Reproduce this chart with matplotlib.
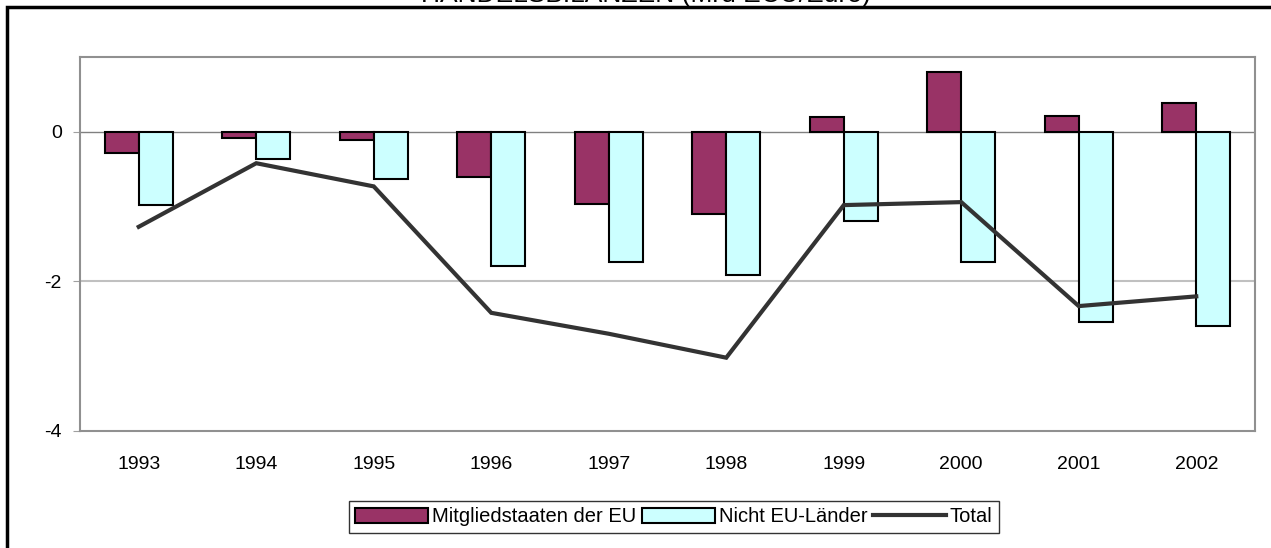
import matplotlib.pyplot as plt
from matplotlib.patches import Rectangle

plt.rcParams["font.family"] = ["Liberation Sans", "DejaVu Sans"]

years = ["1993", "1994", "1995", "1996", "1997", "1998", "1999", "2000", "2001", "2002"]
eu_members = [-0.29, -0.08, -0.11, -0.61, -0.97, -1.10, 0.20, 0.80, 0.21, 0.39]
non_eu = [-0.98, -0.36, -0.63, -1.80, -1.74, -1.92, -1.19, -1.74, -2.54, -2.60]
total = [-1.27, -0.42, -0.73, -2.42, -2.70, -3.02, -0.98, -0.94, -2.33, -2.20]

title = "HANDELSBILANZEN (Mrd ECU/Euro)"
labels = ["Mitgliedstaaten der EU", "Nicht EU-Länder", "Total"]

fig = plt.figure(figsize=(12.71, 5.48), dpi=100)
ax = fig.add_axes([80 / 1271, 1 - 431 / 548, (1255 - 80) / 1271, (431 - 57) / 548])

x = list(range(len(years)))
w = 0.29
b1 = ax.bar([i - w / 2 for i in x], eu_members, width=w, color="#993366",
            edgecolor="black", linewidth=1.5, label=labels[0], zorder=3)
b2 = ax.bar([i + w / 2 for i in x], non_eu, width=w, color="#CCFFFF",
            edgecolor="black", linewidth=1.5, label=labels[1], zorder=3)
ln, = ax.plot(x, total, color="#333333", linewidth=3, label=labels[2], zorder=4,
              solid_joinstyle="miter")

ax.set_xlim(-0.5, len(years) - 0.5)
ax.set_ylim(-4, 1)
ax.set_yticks([-4, -2, 0])
ax.set_yticklabels(["-4", "-2", "0"])
ax.set_xticks(x)
ax.set_xticklabels(years)
ax.tick_params(axis="x", length=0, pad=18, labelsize=14)
ax.tick_params(axis="y", length=5, color="#a0a0a0", pad=8, labelsize=14)

ax.axhline(-2, color="#c0c0c0", linewidth=1.5, zorder=1)
ax.axhline(0, color="#808080", linewidth=1, zorder=2)
for s in ax.spines.values():
    s.set_color("#909090")
    s.set_linewidth(1.5)

leg = ax.legend(handles=[b1, b2, ln], loc="center", ncol=3,
                bbox_to_anchor=(674 / 1271, 1 - 517 / 548),
                bbox_transform=fig.transFigure, fontsize=14.5, frameon=True,
                fancybox=False, edgecolor="black", handlelength=3.6,
                handleheight=0.7, handletextpad=0.2, columnspacing=0.3,
                borderpad=0.3, borderaxespad=0)
leg.get_frame().set_linewidth(1)

fig.patches.append(Rectangle((7 / 1271, -0.1), 1.2, 1 - 7 / 548 + 0.1,
                             transform=fig.transFigure, fill=False,
                             edgecolor="black", linewidth=2.5))
fig.text(646 / 1271, 1 - 2 / 548, title, ha="center", va="baseline", fontsize=19)

fig.savefig("out.png", dpi=100)
